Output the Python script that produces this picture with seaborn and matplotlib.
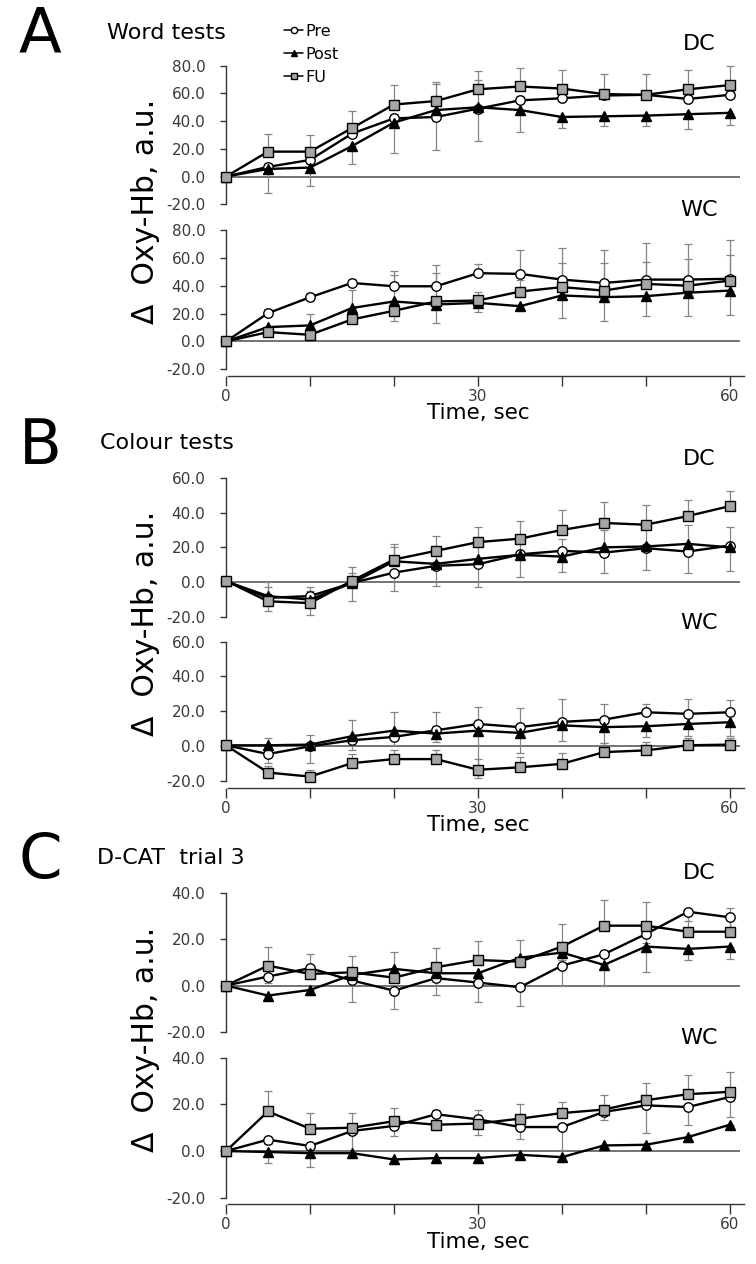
import numpy as np
import pandas as pd
import matplotlib
matplotlib.use("Agg")
import matplotlib.pyplot as plt
import seaborn as sns

# ---------------- data ----------------
TIME = [0, 5, 10, 15, 20, 25, 30, 35, 40, 45, 50, 55, 60]
SERIES = ["Pre", "Post", "FU"]
X_TICKS = [0, 10, 20, 30, 40, 50, 60]
X_TICKLABELS = ["0", "", "", "30", "", "", "60"]

# Panel A - Word tests
A_DC_PRE = [0, 7, 12, 31, 42, 43, 49, 55, 56.5, 58.5, 59, 56, 59]
A_DC_POST = [0, 5.5, 6.5, 22, 39, 48, 50, 48, 43, 43.5, 44, 45, 46]
A_DC_FU = [0, 18, 18, 35, 52, 54.5, 63, 65, 63.5, 59.5, 59, 63, 66]
A_DC_PRE_ERR = [0, 3, 3, 3, 3, 24, 21, 3, 3, 3, 3, 3, 3]
A_DC_POST_ERR = [0, 17, 13, 13, 22, 28.5, 24, 16, 8, 7, 7.5, 11, 9]
A_DC_FU_ERR = [0, 13, 12, 12, 14, 14, 13, 13, 13.5, 14.5, 15, 14, 14]
A_DC_DIR = ["up", "down", "up"]

A_WC_PRE = [0, 20.3, 31.7, 42, 39.6, 39.6, 49, 48.5, 44.4, 42, 44.4, 44.4, 45]
A_WC_POST = [0, 10.3, 11.5, 24, 28.7, 26.5, 27.7, 25.3, 33, 31.8, 32.5, 35, 36.5]
A_WC_FU = [0, 6.7, 4.8, 15.8, 22, 28.7, 29.4, 35.8, 39, 36.5, 41.3, 40, 43.7]
A_WC_PRE_ERR = [0, 3, 3, 3, 11, 15, 6.4, 17, 22.6, 23.5, 26.4, 25.5, 27.8]
A_WC_POST_ERR = [0, 4, 5, 6, 13.7, 13.2, 6.7, 3, 16, 16.8, 14.5, 17, 17.7]
A_WC_FU_ERR = [0, 4, 15, 21, 26, 20.7, 6, 8, 17.6, 20, 15.7, 19.3, 18]
A_WC_DIR = ["up", "down", "up"]

# Panel B - Colour tests
B_DC_PRE = [0.5, -9, -8, -0.5, 5.5, 9.4, 10.3, 16, 18, 17, 19.5, 17.6, 21]
B_DC_POST = [0.5, -8, -10, -0.5, 12, 10.5, 13.4, 15.7, 14.7, 20, 20.5, 22, 20]
B_DC_FU = [0.8, -11, -12, 0.8, 13, 18, 23, 25, 30, 34, 33, 38, 43.7]
B_DC_PRE_ERR = [0, 7.4, 10.7, 10.2, 10.3, 11.4, 13.3, 12.8, 12.3, 11.8, 12.5, 12.4, 14.3]
B_DC_POST_ERR = [0, 5, 5, 6, 8.4, 8, 8, 9, 10.3, 10, 10, 11, 11.5]
B_DC_FU_ERR = [0, 11, 9.5, 8.2, 8.8, 8.5, 8.5, 10, 11.5, 11.8, 11.3, 9, 8.7]
B_DC_DIR = ["down", "up", "up"]

B_WC_PRE = [0.6, -4.4, 0, 3.5, 5.4, 9.2, 12.8, 11, 14, 15.3, 19.5, 18.6, 19.5]
B_WC_POST = [0.6, 0.6, 1, 5.8, 9, 7.3, 9, 7.7, 12, 11, 11.5, 12.8, 13.8]
B_WC_FU = [0.6, -15, -17.3, -9.6, -7.3, -7.3, -13.4, -12, -10, -3.3, -2.3, 0.6, 1]
B_WC_PRE_ERR = [0, 9.2, 6.7, 11.3, 14.3, 10.5, 9.8, 11, 13.3, 9.2, 5, 8.7, 7]
B_WC_POST_ERR = [0, 10.2, 10.6, 8, 8, 5, 27, 11.5, 9, 9, 6, 7, 8]
B_WC_FU_ERR = [0, 4, 4, 5, 5, 5, 6, 6, 6, 5, 5, 4, 4]
B_WC_DIR = ["up", "down", "up"]

# Panel C - D-CAT trial 3
C_DC_PRE = [0, 3.9, 7.5, 2.2, -2.2, 3.2, 1.3, -0.7, 8.6, 13.5, 22.2, 31.8, 29.4]
C_DC_POST = [0, -4.3, -1.9, 4.6, 7.2, 5.3, 5.3, 12, 14.2, 8.9, 16.8, 15.8, 16.8]
C_DC_FU = [0, 8.6, 5, 5.7, 3.4, 7.9, 11, 10.3, 16.8, 25.8, 25.8, 23.2, 23.2]
C_DC_PRE_ERR = [0, 3, 4, 9.1, 7.8, 7.2, 8.2, 8.3, 8.6, 4, 4, 4, 4]
C_DC_POST_ERR = [0, 2, 2, 3, 3, 3, 3, 3, 3, 8.9, 10.8, 5, 5.5]
C_DC_FU_ERR = [0, 8.2, 8.5, 7.1, 11.2, 8.1, 8, 9.3, 9.6, 11, 10.2, 9.3, 10.1]
C_DC_DIR = ["down", "down", "up"]

C_WC_PRE = [0, 4.9, 2.2, 8.6, 10.8, 15.8, 13.6, 10.3, 10.3, 16.8, 19.6, 18.9, 23.2]
C_WC_POST = [0, -0.4, -0.9, -0.9, -3.6, -3, -3, -1.6, -2.6, 2.4, 2.7, 6, 11.3]
C_WC_FU = [0, 17, 9.6, 10, 12.8, 11.3, 11.8, 13.9, 16.3, 17.8, 21.8, 24.4, 25.4]
C_WC_PRE_ERR = [0, 2, 3, 9, 4.5, 6.9, 6.9, 5, 10, 3.3, 12, 7.9, 8.4]
C_WC_POST_ERR = [0, 4.8, 6, 2, 2, 2, 2, 2, 2, 2, 2, 2, 2]
C_WC_FU_ERR = [0, 8.7, 6.9, 6.5, 5.8, 6.5, 6, 6.5, 4.8, 6.4, 7.6, 8.4, 8.3]
C_WC_DIR = ["down", "down", "up"]

PANEL_LETTERS = ["A", "B", "C"]
PANEL_TITLES = ["Word tests", "Colour tests", "D-CAT  trial 3"]
Y_LABEL = "\u0394  Oxy-Hb, a.u."
X_LABEL = "Time, sec"

# ---------------- styling ----------------
sns.set_style("white")
plt.rcParams["font.family"] = ["DejaVu Sans"]
plt.rcParams["text.color"] = "black"

W, H = 756, 1264
fig = plt.figure(figsize=(W / 100, H / 100), dpi=100)


def fx(px):
    return px / W


def fy(px):
    return 1 - px / H


STYLE = {
    "Pre": dict(marker="o", markerfacecolor="white", markersize=6.8),
    "Post": dict(marker="^", markerfacecolor="black", markersize=7.0),
    "FU": dict(marker="s", markerfacecolor="#a6a6a6", markersize=7.6),
}
ERR_COLOR = "#858585"
TICK_COLOR = "#3a3a3a"
X_LEFT, X_RIGHT = 226, 740
XMAX = 61.2

LAYOUT = [
    dict(top=65.7, bottom=204.3, ylim=(-20, 80), tag="DC", tagy=43.5),
    dict(top=230.0, bottom=369.3, ylim=(-20, 80), tag="WC", tagy=210.5),
    dict(top=477.7, bottom=617.0, ylim=(-20, 60), tag="DC", tagy=459),
    dict(top=641.5, bottom=781.3, ylim=(-20, 60), tag="WC", tagy=623),
    dict(top=892.7, bottom=1032.0, ylim=(-20, 40), tag="DC", tagy=873),
    dict(top=1057.8, bottom=1197.7, ylim=(-20, 40), tag="WC", tagy=1038),
]

DATASETS = [
    ([A_DC_PRE, A_DC_POST, A_DC_FU], [A_DC_PRE_ERR, A_DC_POST_ERR, A_DC_FU_ERR], A_DC_DIR),
    ([A_WC_PRE, A_WC_POST, A_WC_FU], [A_WC_PRE_ERR, A_WC_POST_ERR, A_WC_FU_ERR], A_WC_DIR),
    ([B_DC_PRE, B_DC_POST, B_DC_FU], [B_DC_PRE_ERR, B_DC_POST_ERR, B_DC_FU_ERR], B_DC_DIR),
    ([B_WC_PRE, B_WC_POST, B_WC_FU], [B_WC_PRE_ERR, B_WC_POST_ERR, B_WC_FU_ERR], B_WC_DIR),
    ([C_DC_PRE, C_DC_POST, C_DC_FU], [C_DC_PRE_ERR, C_DC_POST_ERR, C_DC_FU_ERR], C_DC_DIR),
    ([C_WC_PRE, C_WC_POST, C_WC_FU], [C_WC_PRE_ERR, C_WC_POST_ERR, C_WC_FU_ERR], C_WC_DIR),
]

axes = []
for i, (lay, (means, errs, dirs)) in enumerate(zip(LAYOUT, DATASETS)):
    top, bottom = lay["top"], lay["bottom"]
    ax = fig.add_axes([fx(X_LEFT), fy(bottom), fx(X_RIGHT) - fx(X_LEFT), (bottom - top) / H])
    ax.set_facecolor("none")
    is_wc = lay["tag"] == "WC"

    rows = []
    for name, vals in zip(SERIES, means):
        for t, v in zip(TIME, vals):
            rows.append((name, t, v))
    df = pd.DataFrame(rows, columns=["series", "time", "value"])

    for k, name in enumerate(SERIES):
        m = np.array(means[k], dtype=float)
        e = np.array(errs[k], dtype=float)
        t = np.array(TIME, dtype=float)
        sel = e > 0
        lo = e[sel] if dirs[k] == "down" else np.zeros(sel.sum())
        hi = e[sel] if dirs[k] == "up" else np.zeros(sel.sum())
        cont = ax.errorbar(t[sel], m[sel], yerr=[lo, hi], fmt="none", ecolor=ERR_COLOR,
                           elinewidth=0.9, capsize=3.2, capthick=0.9, zorder=2)
        for art in cont.lines[1] + cont.lines[2]:
            art.set_clip_on(False)

    for k, name in enumerate(SERIES):
        sub = df[df["series"] == name]
        sns.lineplot(data=sub, x="time", y="value", ax=ax, color="black", linewidth=1.7,
                     markeredgecolor="black", markeredgewidth=1.0, clip_on=False,
                     label=name, legend=False, errorbar=None, zorder=3 + k, **STYLE[name])

    ax.axhline(0, color="#4d4d4d", linewidth=1.1, zorder=1)
    ax.set_xlim(0, XMAX)
    ax.set_ylim(*lay["ylim"])
    yt = np.arange(lay["ylim"][0], lay["ylim"][1] + 1, 20)
    ax.set_yticks(yt)
    ax.set_yticklabels([f"{v:.1f}" for v in yt])
    ax.tick_params(axis="y", direction="out", length=4.3, width=1.0, pad=10.5,
                   labelsize=11, labelcolor=TICK_COLOR, color="#333333", left=True)
    ax.set_xlabel("")
    ax.set_ylabel("")
    for s in ["top", "right"]:
        ax.spines[s].set_visible(False)
    ax.spines["left"].set_color("#333333")
    ax.spines["left"].set_linewidth(1.0)
    if is_wc:
        ax.spines["bottom"].set_position(("outward", 4.7))
        ax.spines["bottom"].set_color("#333333")
        ax.spines["bottom"].set_linewidth(1.0)
        ax.spines["bottom"].set_bounds(0.2, 61.7)
        ax.set_xticks(X_TICKS)
        ax.set_xticklabels(X_TICKLABELS)
        ax.tick_params(axis="x", direction="out", length=7, width=1.0, pad=2.5,
                       labelsize=11, labelcolor=TICK_COLOR, color="#333333", bottom=True)
    else:
        ax.spines["bottom"].set_visible(False)
        ax.set_xticks([])

    fig.text(fx(699), fy(lay["tagy"]), lay["tag"], ha="center", va="center",
             fontsize=16, color="black")
    axes.append(ax)

LETTER_Y = [35, 447, 861]
TITLE_Y = [33, 443, 858]
TITLE_X = [107, 100, 97]
for p in range(3):
    fig.text(fx(40), fy(LETTER_Y[p]), PANEL_LETTERS[p], ha="center", va="center",
             fontsize=45, color="black")
    fig.text(fx(TITLE_X[p]), fy(TITLE_Y[p]), PANEL_TITLES[p], ha="left", va="center",
             fontsize=16, color="black")
    top = LAYOUT[2 * p]["top"]
    bot = LAYOUT[2 * p + 1]["bottom"]
    fig.text(fx(145), fy((top + bot) / 2 - 6), Y_LABEL, rotation=90, ha="center",
             va="center", fontsize=21.5, color="black")
    fig.text(fx(478), fy(bot + 44), X_LABEL, ha="center", va="center",
             fontsize=15.5, color="black")

handles, labels = axes[0].get_legend_handles_labels()
leg = fig.legend(handles, labels, loc="upper left", bbox_to_anchor=(fx(284), fy(24)),
                 frameon=False, fontsize=11.5, handlelength=1.2, handletextpad=0.15,
                 labelspacing=0.5, borderpad=0, borderaxespad=0)
for h in leg.legend_handles:
    h.set_markersize(4.5)
    h.set_linewidth(1.1)
for txt in leg.get_texts():
    txt.set_color("black")

fig.savefig("out.png", dpi=100)
